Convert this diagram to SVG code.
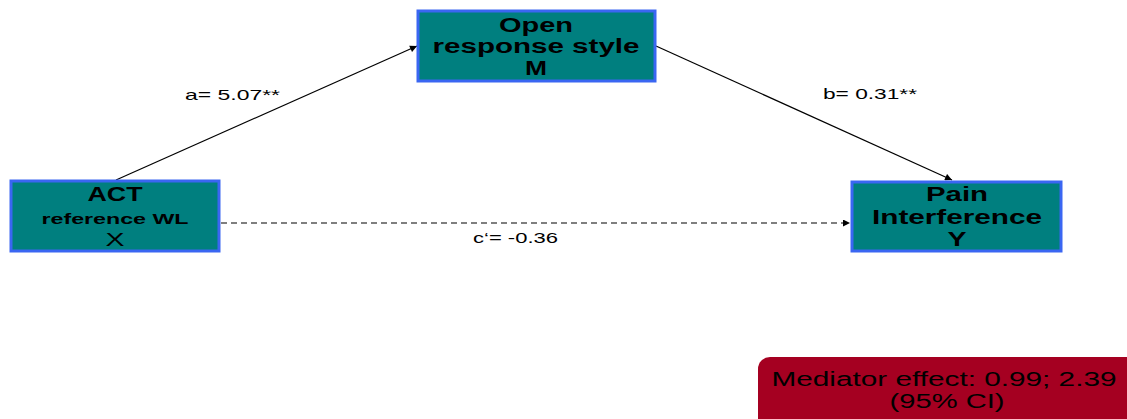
<svg xmlns="http://www.w3.org/2000/svg" width="1127" height="419" viewBox="0 0 1127 419">
<style>
.node{fill:#007F7F;stroke:#3A66F2;stroke-width:3}
.t{font-family:"Liberation Sans",Arial,sans-serif;fill:#000;text-anchor:middle}
.b{font-weight:bold}
.lbl{font-family:"Liberation Sans",Arial,sans-serif;font-size:15px;fill:#000}
.edge{stroke:#000;stroke-width:1.2;fill:none}
</style>
<defs>
<marker id="ah" viewBox="0 0 10 10" refX="10" refY="5" markerWidth="9" markerHeight="7" markerUnits="userSpaceOnUse" orient="auto">
<path d="M0,0 L10,5 L0,10 z" fill="#000"/>
</marker>
</defs>
<rect width="1127" height="419" fill="#fff"/>
<g id="connectors">
<line class="edge" x1="116" y1="180" x2="417" y2="46" marker-end="url(#ah)"/>
<line class="edge" x1="656" y1="46" x2="952" y2="180" marker-end="url(#ah)"/>
<line class="edge" x1="221" y1="223" x2="850" y2="223" stroke-dasharray="6,4" marker-end="url(#ah)"/>
<text class="lbl" x="185" y="100" textLength="95" lengthAdjust="spacingAndGlyphs">a= 5.07**</text>
<text class="lbl" x="823" y="99" textLength="94" lengthAdjust="spacingAndGlyphs">b= 0.31**</text>
<text class="lbl" x="473" y="243" textLength="85" lengthAdjust="spacingAndGlyphs">c‘= -0.36</text>
</g>
<g id="node-x">
<rect class="node" x="11" y="181" width="208" height="70"/>
<text class="t b" x="115" y="201" font-size="20" textLength="55" lengthAdjust="spacingAndGlyphs">ACT</text>
<text class="t b" x="115" y="224" font-size="15.5" textLength="147" lengthAdjust="spacingAndGlyphs">reference WL</text>
<text class="t" x="115" y="246" font-size="19" textLength="19" lengthAdjust="spacingAndGlyphs">X</text>
</g>
<g id="node-m">
<rect class="node" x="418" y="11" width="237" height="70"/>
<text class="t b" x="536" y="32" font-size="20" textLength="74" lengthAdjust="spacingAndGlyphs">Open</text>
<text class="t b" x="536" y="53" font-size="20" textLength="207" lengthAdjust="spacingAndGlyphs">response style</text>
<text class="t b" x="536" y="75" font-size="20" textLength="22" lengthAdjust="spacingAndGlyphs">M</text>
</g>
<g id="node-y">
<rect class="node" x="852" y="182" width="209" height="69"/>
<text class="t b" x="957" y="201" font-size="20" textLength="62" lengthAdjust="spacingAndGlyphs">Pain</text>
<text class="t b" x="957" y="224" font-size="20" textLength="170" lengthAdjust="spacingAndGlyphs">Interference</text>
<text class="t b" x="957" y="246" font-size="20" textLength="19" lengthAdjust="spacingAndGlyphs">Y</text>
</g>
<g id="mediator-effect">
<rect x="758" y="357" width="390" height="80" rx="12" ry="12" fill="#A50021"/>
<text class="t" x="944" y="386" font-size="20" fill="#111" textLength="345" lengthAdjust="spacingAndGlyphs">Mediator effect: 0.99; 2.39</text>
<text class="t" x="947" y="408" font-size="20" fill="#111" textLength="115" lengthAdjust="spacingAndGlyphs">(95% CI)</text>
</g>
</svg>
